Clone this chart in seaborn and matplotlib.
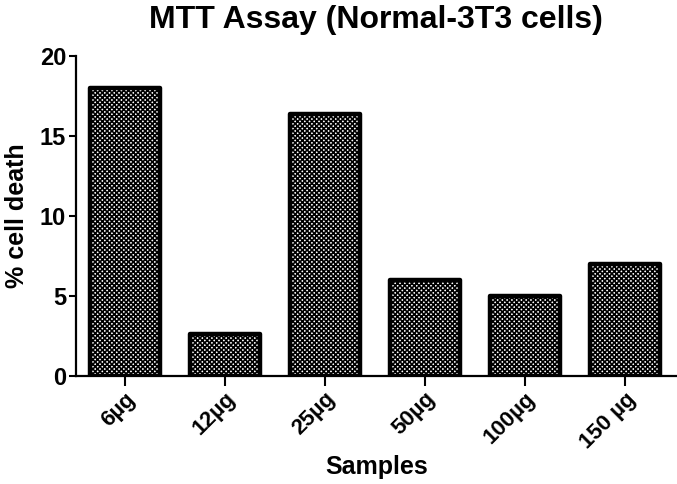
import matplotlib
matplotlib.use("Agg")
import matplotlib.pyplot as plt
import seaborn as sns
import pandas as pd

# === Data ===
samples = ["6µg", "12µg", "25µg", "50µg", "100µg", "150 µg"]
cell_death = [18.0, 2.6, 16.4, 6.0, 5.0, 7.0]
y_ticks = [0, 5, 10, 15, 20]

df = pd.DataFrame({"sample": samples, "cell_death": cell_death})

sns.set_style("ticks")
plt.rcParams["font.family"] = ["Liberation Sans", "DejaVu Sans"]
plt.rcParams["font.weight"] = "bold"
plt.rcParams["text.color"] = "black"
plt.rcParams["axes.labelcolor"] = "black"
plt.rcParams["xtick.color"] = "black"
plt.rcParams["ytick.color"] = "black"
plt.rcParams["hatch.linewidth"] = 1.2

fig = plt.figure(figsize=(6.77, 4.84), dpi=100)
ax = fig.add_axes([0.112, 0.223, 0.888, 0.661])

sns.barplot(data=df, x="sample", y="cell_death", color="white", saturation=1,
            edgecolor="black", linewidth=3.2, width=0.7, hatch="xxxxxxx", ax=ax)
for bar in ax.patches:
    bar.set_joinstyle("round")

sns.despine(ax=ax)
for side in ["left", "bottom"]:
    ax.spines[side].set_linewidth(1.6)
    ax.spines[side].set_color("black")

ax.set_xlim(-0.49, 5.52)
ax.set_ylim(0, 20)
ax.set_yticks(y_ticks)
ax.tick_params(axis="y", length=5, width=1.5, labelsize=17, pad=2)
ax.tick_params(axis="x", length=7, width=1.5, labelsize=16, pad=2)
plt.setp(ax.get_xticklabels(), rotation=45, ha="right", rotation_mode="anchor", fontweight="bold")
plt.setp(ax.get_yticklabels(), fontweight="bold")

ax.set_title("MTT Assay (Normal-3T3 cells)", fontsize=23, fontweight="bold", pad=20)
ax.set_xlabel("Samples", fontsize=18, fontweight="bold", labelpad=2)
ax.set_ylabel("% cell death", fontsize=18, fontweight="bold", labelpad=8)

fig.savefig("out.png", dpi=100)
